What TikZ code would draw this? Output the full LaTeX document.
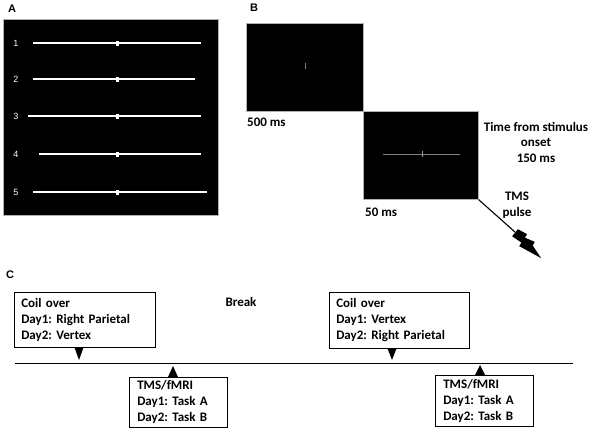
\documentclass[tikz,border=0pt]{standalone}
\usepackage{fontspec}
\setmainfont{Carlito}
\newfontfamily\arialf{Liberation Sans}
\frenchspacing
\begin{document}
\begin{tikzpicture}[x=1pt,y=-1pt,
  panel/.style={font=\arialf\bfseries\fontsize{11}{13}\selectfont, anchor=center},
  screen/.style={fill=black, draw=gray!60, line width=0.6pt, anchor=north west, inner sep=0pt},
  wline/.style={white, line width=1.6pt},
  num/.style={text=white, font=\arialf\fontsize{9}{11}\selectfont},
  lab/.style={font=\bfseries\fontsize{13}{15}\selectfont, inner sep=0pt},
  cbox/.style={draw=black, line width=0.6pt, fill=white, anchor=north west, align=left,
    inner xsep=7pt, inner ysep=0pt, font=\bfseries\fontsize{13}{16}\selectfont},
  tri/.style={fill=black}
]
\useasboundingbox (0,0) rectangle (592,432);

% ---------- Panel A ----------
\node[panel] (lA) at (12,9) {A};
\node[screen, minimum width=215pt, minimum height=196pt] (scrA) at (3,19) {};
\foreach \i/\y/\xa/\xb in {1/43/33/201, 2/79/33/195, 3/116/28/201, 4/154/39/201, 5/192/33/207}{
  \node[num] (n\i) at (16,\y) {\i};
  \draw[wline] (\xa,\y) -- (\xb,\y);
  \fill[white] (116,\y-2.5) rectangle (118.5,\y+2.5);
}

% ---------- Panel B ----------
\node[panel] (lB) at (254,8) {B};
\node[screen, minimum width=117pt, minimum height=88pt] (s1) at (246,23) {};
\draw[gray, line width=0.8pt] (305,63) -- (305,69);
\node[screen, minimum width=115pt, minimum height=88pt] (s2) at (363,111) {};
\draw[gray, line width=0.8pt] (383,154) -- (460,154);
\draw[gray!80!white, line width=0.8pt] (422,151) -- (422,157);

\node[lab, anchor=west] (t500) at (247,122) {500 ms};
\node[lab, anchor=west] (t50) at (365,212) {50 ms};
\node[lab, align=center, font=\bfseries\fontsize{13}{15.5}\selectfont] (ttime) at (536,142) {Time from stimulus\\onset\\150 ms};
\node[lab, align=center, font=\bfseries\fontsize{13}{16}\selectfont] (ttms) at (517,205) {TMS\\pulse};

\coordinate (boltstart) at (515,232);
\draw[line width=1.1pt] (s2.south east) -- (boltstart);
\begin{scope}[shift={(515,232)}, rotate=-45]
  \fill[black] (0,-4) -- (1,5) -- (12,3) -- (13,7) -- (37,0) -- (22,-3)
     -- (21,-7) -- (11,-3) -- (10,-7) -- cycle;
\end{scope}

% ---------- Panel C ----------
\node[panel] (lC) at (10,275) {C};
\coordinate (tlL) at (15,363);
\coordinate (tlR) at (573,363);
\draw[line width=0.8pt] (tlL) -- (tlR);

\node[cbox, minimum width=141pt, minimum height=55pt, text width=127pt] (c1) at (14,292)
  {Coil over\\Day1: Right Parietal\\Day2: Vertex};
\node[lab] (brk) at (241,302) {Break};
\node[cbox, minimum width=140pt, minimum height=56pt, text width=126pt] (c3) at (329,292)
  {Coil over\\Day1: Vertex\\Day2: Right Parietal};
\node[cbox, minimum width=98pt, minimum height=50pt, text width=82pt, inner xsep=8pt] (c2) at (129,377)
  {TMS/fMRI\\Day1: Task A\\Day2: Task B};
\node[cbox, minimum width=98pt, minimum height=51pt, text width=82pt, inner xsep=8pt] (c4) at (435,375)
  {TMS/fMRI\\Day1: Task A\\Day2: Task B};

% triangles
\fill[tri] (74.5,347.5) -- (83.5,347.5) -- (79,360) -- cycle;
\fill[tri] (387.5,348.5) -- (396.5,348.5) -- (392,360) -- cycle;
\fill[tri] (168,377) -- (178,377) -- (173,366) -- cycle;
\fill[tri] (475,375) -- (485,375) -- (480,365) -- cycle;
\end{tikzpicture}
\end{document}
